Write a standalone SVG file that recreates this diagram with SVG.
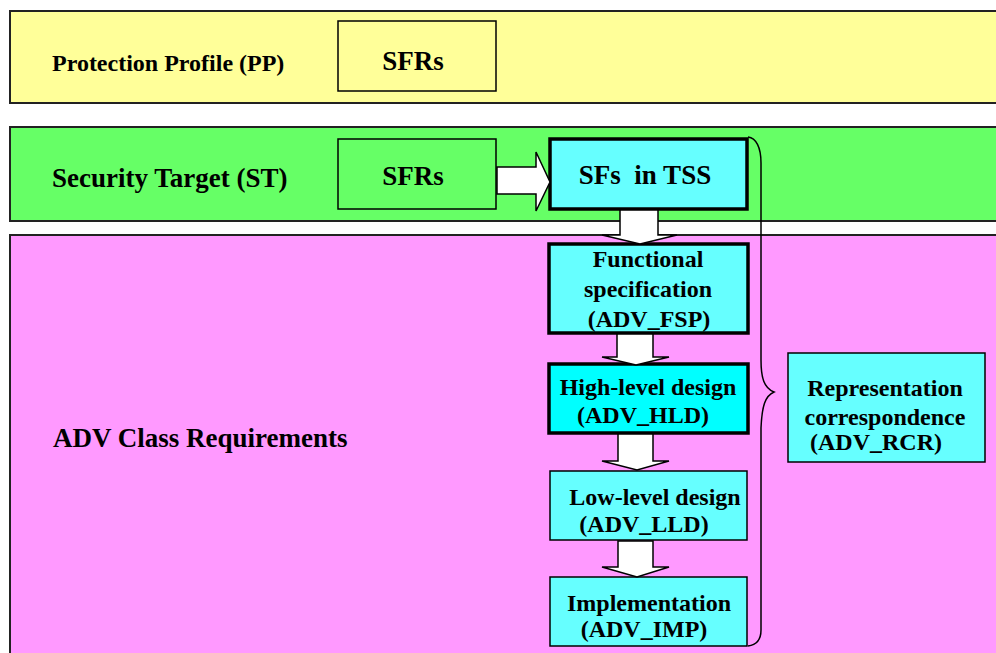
<svg xmlns="http://www.w3.org/2000/svg" width="996" height="653" viewBox="0 0 996 653">
<style>
text{font-family:"Liberation Serif","Times New Roman",serif;font-weight:bold;fill:#000}
.band{stroke:#222;stroke-width:2}
.box{stroke:#000;stroke-width:1.5}
.thick{stroke:#000;stroke-width:3.5}
.arr{fill:#fff;stroke:#000;stroke-width:1.5;stroke-linejoin:miter}
.t24{font-size:24px;text-anchor:middle}
.t27{font-size:27px;text-anchor:middle}
</style>
<rect width="996" height="653" fill="#fff"/>
<g id="band-pp">
<rect class="band" x="10" y="11" width="1000" height="92" fill="#FFFF99"/>
<text x="52" y="71" style="font-size:24px">Protection Profile (PP)</text>
</g>
<g id="pp-sfrs">
<rect class="box" x="338" y="21" width="158" height="70" fill="#FFFF99"/>
<text class="t27" x="413" y="70">SFRs</text>
</g>
<g id="band-st">
<rect class="band" x="10" y="127" width="1000" height="94" fill="#66FF66"/>
<text x="52" y="187" style="font-size:27px">Security Target (ST)</text>
</g>
<g id="st-sfrs">
<rect class="box" x="338" y="139" width="158" height="70" fill="#66FF66"/>
<text class="t27" x="413" y="185">SFRs</text>
</g>
<g id="band-adv">
<rect class="band" x="10" y="235" width="1000" height="430" fill="#FF99FF"/>
<text x="53" y="447" style="font-size:27px">ADV Class Requirements</text>
</g>
<g id="sfs-tss">
<rect class="thick" x="550" y="139" width="197" height="70" fill="#66FFFF"/>
<text class="t27" x="645" y="184" xml:space="preserve">SFs  in TSS</text>
</g>
<g id="adv-fsp">
<rect class="thick" x="549" y="244" width="199" height="89" fill="#66FFFF"/>
<text class="t24" x="648" y="267">Functional</text>
<text class="t24" x="648" y="297">specification</text>
<text class="t24" x="649" y="327">(ADV_FSP)</text>
</g>
<g id="adv-hld">
<rect class="thick" x="549" y="364" width="199" height="69" fill="#00FFFF"/>
<text class="t24" x="648" y="395">High-level design</text>
<text class="t24" x="643" y="423">(ADV_HLD)</text>
</g>
<g id="adv-lld">
<rect class="box" x="550" y="471" width="197" height="69" fill="#66FFFF"/>
<text class="t24" x="655" y="505">Low-level design</text>
<text class="t24" x="644" y="532">(ADV_LLD)</text>
</g>
<g id="adv-imp">
<rect class="box" x="550" y="577" width="197" height="69" fill="#66FFFF"/>
<text class="t24" x="649" y="611">Implementation</text>
<text class="t24" x="644" y="637">(ADV_IMP)</text>
</g>
<g id="adv-rcr">
<rect class="box" x="788" y="353" width="197" height="109" fill="#66FFFF"/>
<text class="t24" x="885" y="396">Representation</text>
<text class="t24" x="885" y="425">correspondence</text>
<text class="t24" x="876" y="450">(ADV_RCR)</text>
</g>
<g id="connectors">
<path class="arr" d="M497,167 L536,167 L536,152 L550,182 L536,211 L536,194 L497,194 Z"/>
<path class="arr" d="M620,210 L658,210 L658,235 L677,235 L640,244 L602,235 L620,235 Z"/>
<path class="arr" d="M617,334 L653,334 L653,357 L669,357 L636,365 L602,357 L617,357 Z"/>
<path class="arr" d="M618,434 L653,434 L653,461 L669,461 L637,470 L602,461 L618,461 Z"/>
<path class="arr" d="M618,541 L653,541 L653,567 L669,567 L637,577 L602,567 L618,567 Z"/>
<path d="M748,137 C756,138 761,147 761,163 L761,360 C761,378 764,388 774,392 C765,396 762,406 761,428 L761,630 C761,640 756,645 748,646" fill="none" stroke="#000" stroke-width="1.5"/>
</g>
</svg>
